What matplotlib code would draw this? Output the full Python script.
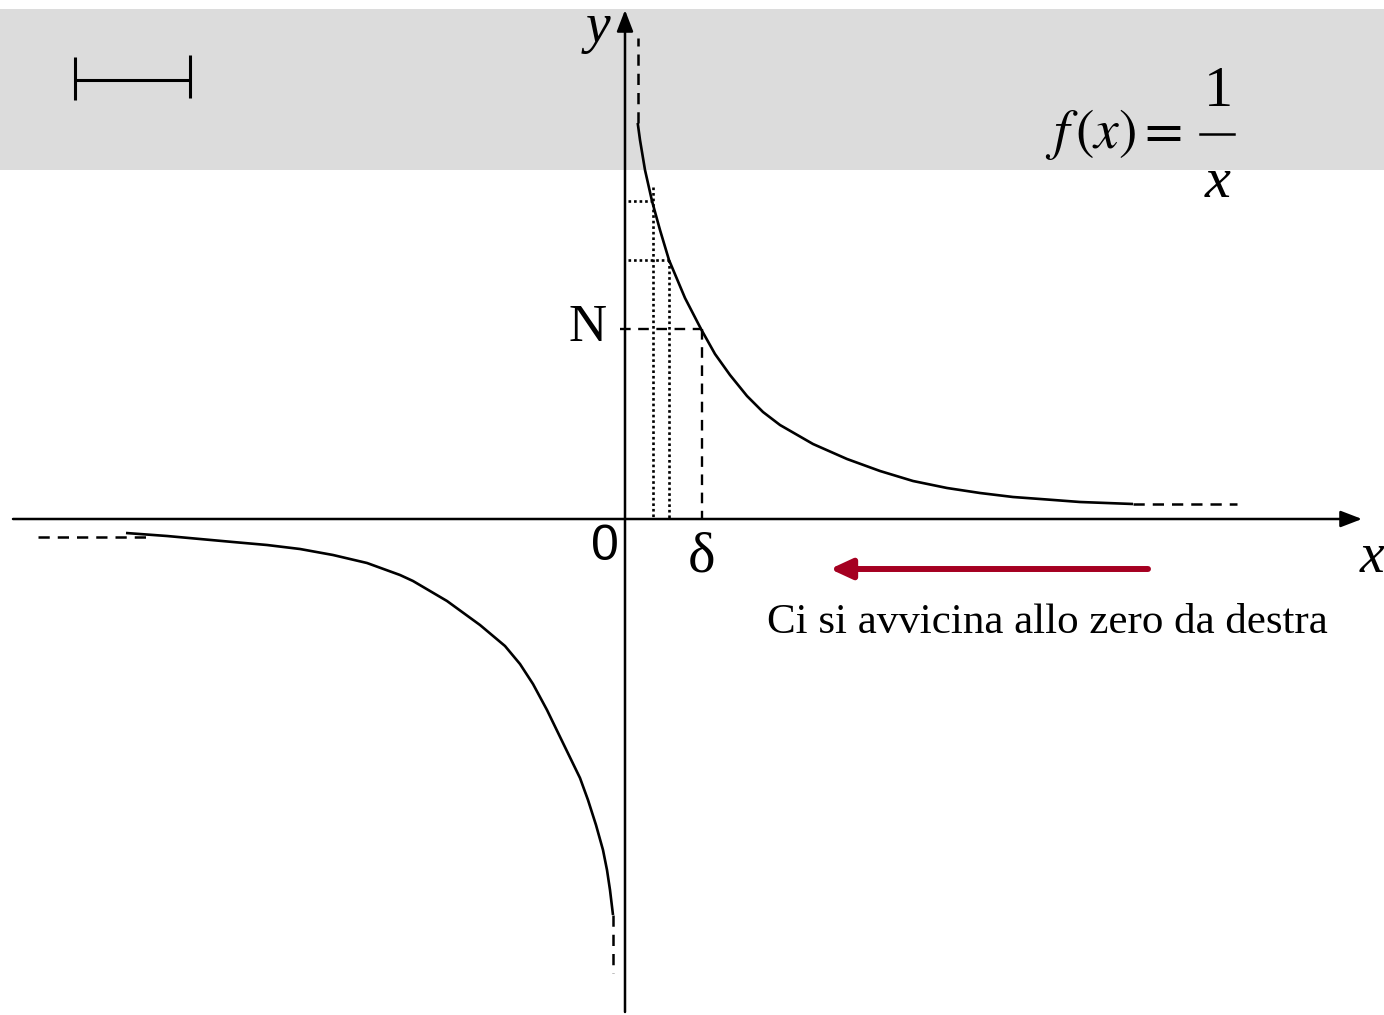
import matplotlib
matplotlib.use("Agg")
import matplotlib.pyplot as plt

plt.rcParams['mathtext.fontset'] = 'stix'

# ---- data (units: x to the right of origin, y above origin) ----
right_x = [0.127, 0.15, 0.20, 0.27, 0.35, 0.44, 0.60, 0.76, 0.90, 1.05, 1.22, 1.38, 1.55, 1.88,
           2.22, 2.55, 2.88, 3.22, 3.55, 3.88, 4.22, 4.55, 5.08]
right_y = [3.96, 3.79, 3.49, 3.18, 2.89, 2.59, 2.21, 1.90, 1.65, 1.44, 1.23, 1.07, 0.94, 0.75,
           0.60, 0.48, 0.38, 0.31, 0.26, 0.22, 0.195, 0.17, 0.15]

left_x = [-4.99, -4.58, -4.25, -3.92, -3.58, -3.25, -2.92, -2.58, -2.25, -2.12, -1.78, -1.45,
          -1.20, -1.05, -0.92, -0.78, -0.62, -0.45, -0.37, -0.29, -0.22, -0.18, -0.15, -0.12]
left_y = [-0.14, -0.17, -0.20, -0.23, -0.26, -0.30, -0.36, -0.44, -0.56, -0.62, -0.82, -1.06,
          -1.27, -1.45, -1.65, -1.91, -2.24, -2.59, -2.81, -3.06, -3.31, -3.51, -3.71, -3.96]

# asymptotic continuations (dashed)
top_dash_x = [0.127, 0.127]
top_dash_y = [3.96, 4.81]
bottom_dash_x = [-0.12, -0.12]
bottom_dash_y = [-3.96, -4.54]
right_dash_x = [5.08, 6.12]
right_dash_y = [0.15, 0.15]
left_dash_x = [-5.87, -4.75]
left_dash_y = [-0.175, -0.175]

# guide values
N_value = 1.90
delta_value = 0.77
dotted_x = [0.277, 0.44]
dotted_y = [3.18, 2.59]
dotted_top = [3.32, 2.59]

band = (3.49, 5.10)

caption = "Ci si avvicina allo zero da destra"

fig = plt.figure(figsize=(13.84, 10.15), dpi=100)
ax = fig.add_axes([0, 0, 1, 1])
ax.set_xlim(-6.25, 7.59)
ax.set_ylim(-4.96, 5.19)
ax.axis('off')

ax.axhspan(band[0], band[1], color='#DCDCDC', zorder=0, lw=0)

dash = (0, (4.5, 3.2))
# axes with arrows
ax.annotate('', xy=(7.37, 0), xytext=(-6.12, 0),
            arrowprops=dict(arrowstyle='-|>,head_length=1.3,head_width=0.5',
                            lw=1.8, color='black', shrinkA=0, shrinkB=0), zorder=3)
ax.annotate('', xy=(0, 5.09), xytext=(0, -4.93),
            arrowprops=dict(arrowstyle='-|>,head_length=1.3,head_width=0.5',
                            lw=1.8, color='black', shrinkA=0, shrinkB=0), zorder=3)

# curves
ax.plot(right_x, right_y, color='black', lw=1.9, solid_capstyle='butt',
        solid_joinstyle='round', zorder=4)
ax.plot(left_x, left_y, color='black', lw=1.9, solid_capstyle='butt',
        solid_joinstyle='round', zorder=4)
for xs, ys in [(top_dash_x, top_dash_y), (bottom_dash_x, bottom_dash_y),
               (right_dash_x, right_dash_y), (left_dash_x, left_dash_y)]:
    ax.plot(xs, ys, color='black', lw=1.8, linestyle=dash, zorder=4)

# N and delta guides
ax.plot([-0.05, delta_value], [N_value, N_value], color='black', lw=1.7, linestyle=dash, zorder=3)
ax.plot([delta_value, delta_value], [N_value, 0], color='black', lw=1.7, linestyle=dash, zorder=3)

# dotted guides
for xv, yv, yt in zip(dotted_x, dotted_y, dotted_top):
    ax.plot([xv, xv], [yt, 0], color='black', lw=1.9, linestyle=(0, (1, 1.1)), zorder=3)
    ax.plot([0.03, xv], [yv, yv], color='black', lw=1.9, linestyle=(0, (1, 1.1)), zorder=3)

# interval symbol
ax.plot([-5.50, -4.35], [4.395, 4.395], color='black', lw=2.2, solid_capstyle='butt')
ax.plot([-5.50, -5.50], [4.19, 4.62], color='black', lw=2.2, solid_capstyle='butt')
ax.plot([-4.35, -4.35], [4.21, 4.64], color='black', lw=2.2, solid_capstyle='butt')

# red arrow
ax.annotate('', xy=(2.05, -0.50), xytext=(5.23, -0.50),
            arrowprops=dict(arrowstyle='-|>,head_length=1.3,head_width=0.6',
                            lw=4.3, color='#A50021', shrinkA=0, shrinkB=0))

# labels
serif = 'Liberation Serif'
ax.text(-0.27, 4.91, 'y', family=serif, style='italic', fontsize=40, ha='center', va='center')
ax.text(7.47, -0.39, 'x', family=serif, style='italic', fontsize=40, ha='center', va='center')
ax.text(-0.37, 1.91, 'N', family=serif, fontsize=38, ha='center', va='center')
ax.text(-0.20, -0.28, '0', family='Liberation Sans', fontsize=36, ha='center', va='center')
ax.text(0.77, -0.38, 'δ', family=serif, fontsize=42, ha='center', va='center')
ax.text(4.22, -1.04, caption, family=serif, fontsize=31, ha='center', va='center')

# formula
ax.text(4.20, 3.85, r'$f\,(x)=$', fontsize=40, ha='left', va='center')
ax.text(5.93, 4.27, '1', family=serif, fontsize=42, ha='center', va='center')
ax.text(5.93, 3.36, 'x', family=serif, style='italic', fontsize=42, ha='center', va='center')
ax.plot([5.75, 6.09], [3.85, 3.85], color='black', lw=1.8)

fig.savefig('out.png', dpi=100)
